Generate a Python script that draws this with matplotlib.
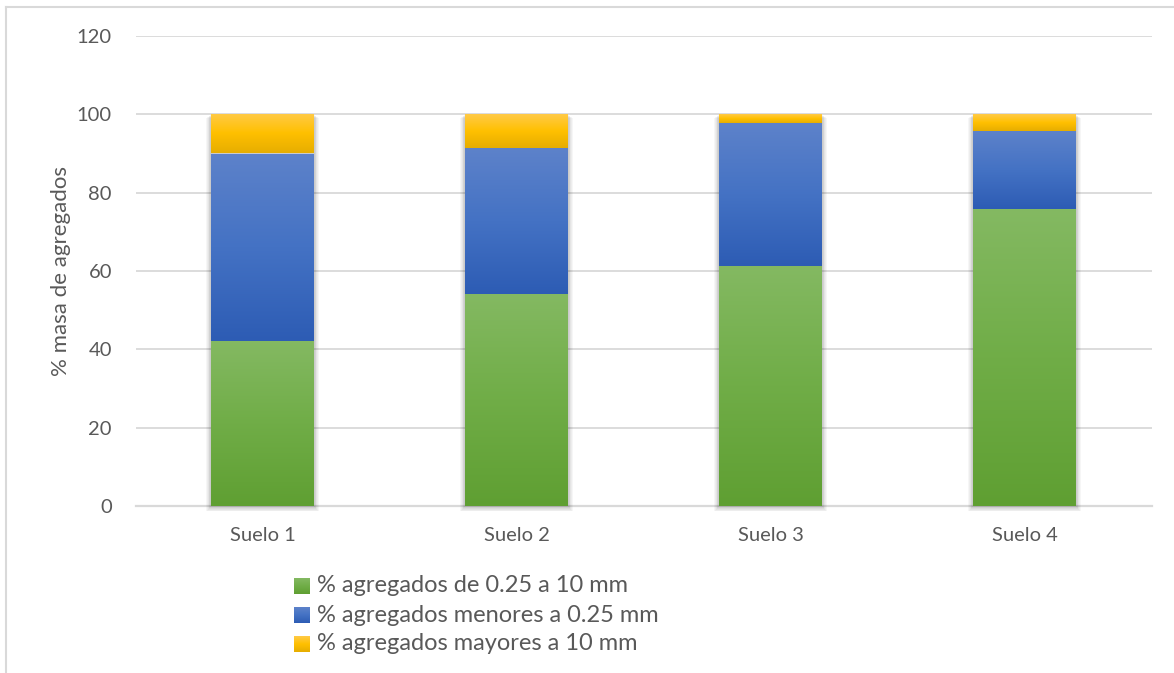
import numpy as np
import matplotlib
matplotlib.use("Agg")
import matplotlib.pyplot as plt
from matplotlib.colors import LinearSegmentedColormap
from matplotlib.patches import Rectangle
from matplotlib.lines import Line2D

# ---- data -------------------------------------------------------------
suelos = ["Suelo 1", "Suelo 2", "Suelo 3", "Suelo 4"]
series_names = [
    "% agregados de 0.25 a 10 mm",
    "% agregados menores a 0.25 mm",
    "% agregados mayores a 10 mm",
]
pct_medios = [42.1, 54.2, 61.3, 75.8]     # 0.25 - 10 mm
pct_menores = [47.9, 37.2, 36.5, 19.9]    # < 0.25 mm
pct_mayores = [10.0, 8.6, 2.2, 4.3]       # > 10 mm
y_ticks = [0, 20, 40, 60, 80, 100, 120]

# ---- style ------------------------------------------------------------
TEXT = "#595959"
GRID = "#d9d9d9"
FONT = ["Lato", "DejaVu Sans"]
plt.rcParams["font.family"] = FONT

# light top -> base -> darker bottom (Office-style gradient fill)
gradients = [
    ["#84b962", "#70ad47", "#5f9f32"],
    ["#5d82ca", "#4472c4", "#2d5cb4"],
    ["#ffca48", "#ffc000", "#e6ad00"],
]
cmaps = [LinearSegmentedColormap.from_list(f"g{i}", g[::-1]) for i, g in enumerate(gradients)]

W, H = 1174, 673
fig = plt.figure(figsize=(W / 100, H / 100), dpi=100)
ax = fig.add_axes([135.5 / W, 1 - 506 / H, 1016 / W, 470 / H])

x = np.arange(len(suelos))
bar_w = 0.405
series = [pct_medios, pct_menores, pct_mayores]

# soft shadow behind each stacked bar
px_x = 1 / 254.0
px_y = 120 / 470.0
totals = np.sum(series, axis=0)
for xi, tot in zip(x, totals):
    for k in range(1, 7):
        ax.add_patch(Rectangle((xi - bar_w / 2 - k * px_x * 0.8, -k * px_y * 0.9),
                               bar_w + 2 * k * px_x * 0.8, tot + k * px_y * 0.3,
                               facecolor="black", edgecolor="none",
                               alpha=0.035, zorder=1.5, clip_on=False))

grad = np.linspace(0, 1, 256).reshape(-1, 1)
bottom = np.zeros(len(suelos))
for vals, cmap in zip(series, cmaps):
    bars = ax.bar(x, vals, width=bar_w, bottom=bottom, color="none",
                  edgecolor="none", zorder=2)
    for b in bars:
        x0, y0 = b.get_x(), b.get_y()
        im = ax.imshow(grad, cmap=cmap, aspect="auto", origin="lower",
                       extent=(x0, x0 + b.get_width(), y0, y0 + b.get_height()),
                       zorder=2, interpolation="bilinear")
        im.set_clip_path(b)
    bottom = bottom + np.array(vals)

ax.set_xlim(-0.5, len(suelos) - 0.5)
ax.set_ylim(0, 120)
ax.set_yticks(y_ticks)
ax.set_xticks(x)
ax.set_xticklabels(suelos)
ax.yaxis.grid(True, color=GRID, linewidth=1.3)
ax.set_axisbelow(True)
for s in ("top", "right", "left"):
    ax.spines[s].set_visible(False)
ax.spines["bottom"].set_color(GRID)
ax.spines["bottom"].set_linewidth(1.6)
ax.spines["bottom"].set_zorder(1.4)
ax.tick_params(axis="both", length=0, colors=TEXT, labelsize=14.5)
ax.tick_params(axis="y", pad=17)
ax.tick_params(axis="x", pad=15)
ax.set_ylabel("% masa de agregados", color=TEXT, fontsize=16, labelpad=4)

# legend (gradient swatches + labels)
row_y = [586, 615, 644]
for name, cmap, ry in zip(series_names, cmaps, row_y):
    sw = fig.add_axes([294 / W, 1 - (ry + 8) / H, 16 / W, 16 / H])
    sw.imshow(grad, cmap=cmap, aspect="auto", origin="lower", interpolation="bilinear")
    sw.set_axis_off()
    fig.text(317 / W, 1 - ry / H, name, color=TEXT, fontsize=17, va="center", ha="left")

# chart-area border
fig.add_artist(Line2D([6 / W, 1], [1 - 6.5 / H, 1 - 6.5 / H], color=GRID, lw=1.5))
fig.add_artist(Line2D([6 / W, 6 / W], [0, 1 - 6.5 / H], color=GRID, lw=1.5))

fig.savefig("out.png", dpi=100)
